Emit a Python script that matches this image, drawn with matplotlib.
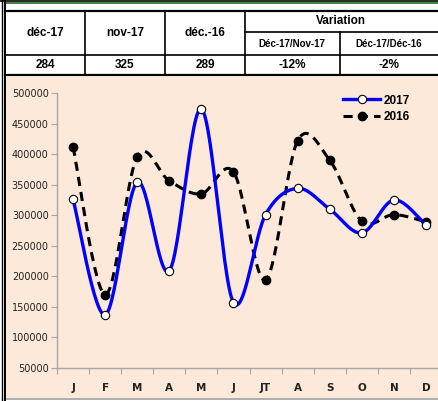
import numpy as np
import matplotlib
matplotlib.use("Agg")
import matplotlib.pyplot as plt
from matplotlib.lines import Line2D
from matplotlib.patches import Rectangle

months = ["J", "F", "M", "A", "M", "J", "JT", "A", "S", "O", "N", "D"]
v2017 = [326000, 137000, 354000, 209000, 474000, 157000, 301000, 344000, 310000, 271000, 325000, 284000]
v2016 = [412000, 170000, 396000, 356000, 335000, 371000, 194000, 422000, 390000, 290000, 301000, 289000]
table_head = ["déc-17", "nov-17", "déc.-16"]
table_sub = ["Déc-17/Nov-17", "Déc-17/Déc-16"]
table_vals = ["284", "325", "289", "-12%", "-2%"]
yticks = [50000, 100000, 150000, 200000, 250000, 300000, 350000, 400000, 450000, 500000]

W, H = 438, 401
fig = plt.figure(figsize=(W / 100, H / 100), dpi=100)
fig.patch.set_facecolor("white")

def fx(x):
    return x / W

def fy(y):
    return 1 - y / H

def hline(y, x0, x1, c="black", lw=1.0):
    fig.add_artist(Line2D([fx(x0), fx(x1)], [fy(y), fy(y)], color=c, lw=lw, transform=fig.transFigure))

def vline(x, y0, y1, c="black", lw=1.0):
    fig.add_artist(Line2D([fx(x), fx(x)], [fy(y0), fy(y1)], color=c, lw=lw, transform=fig.transFigure))

peach = "#FDE9D9"
# chart background panel
fig.add_artist(Rectangle((fx(6), fy(398)), (438 - 6) / W, (398 - 77) / H,
                         facecolor=peach, edgecolor="none", transform=fig.transFigure, zorder=0))
hline(398.5, 6, 438, c="#A0A0A0", lw=1.2)

# top border lines
hline(0.5, 0, 438, lw=1.2)
hline(3, 5, 438, c="#1E6B1E", lw=1.2)
hline(11, 5, 438, lw=1.6)
# left double line
vline(1.5, 0, 401, lw=1.0)
vline(5, 0, 401, lw=1.4)

# table
hline(55, 5, 438, lw=1.2)
hline(75, 5, 438, lw=1.6)
hline(32, 245, 438, lw=1.2)
for x in [85, 165, 245]:
    vline(x, 11, 75, lw=1.2)
vline(340, 32, 75, lw=1.2)

tfont = dict(family="Liberation Sans", weight="bold", ha="center", va="center")
for x, t in zip([45, 125, 205], table_head):
    fig.text(fx(x), fy(33), t, fontsize=8.5, **tfont)
fig.text(fx(341), fy(21), "Variation", fontsize=8.5, **tfont)
for x, t in zip([292, 389], table_sub):
    fig.text(fx(x), fy(44), t, fontsize=7, **tfont)
for x, t in zip([45, 125, 205, 292, 389], table_vals):
    fig.text(fx(x), fy(65), t, fontsize=8.5, **tfont)

# chart axes
x0, x1 = 57, 442
y_top, y_bot = 93, 368
ax = fig.add_axes([fx(x0), fy(y_bot), (x1 - x0) / W, (y_bot - y_top) / H])
ax.set_facecolor("none")
ax.set_xlim(-0.5, 11.5)
ax.set_ylim(50000, 500000)

def smooth(xs, ys, n=30):
    xs = np.asarray(xs, float)
    ys = np.asarray(ys, float)
    P = np.column_stack([xs, ys])
    P = np.vstack([P[0], P, P[-1]])
    out = []
    for i in range(1, len(P) - 2):
        p0, p1, p2, p3 = P[i - 1], P[i], P[i + 1], P[i + 2]
        c1 = p1 + (p2 - p0) / 6
        c2 = p2 - (p3 - p1) / 6
        t = np.linspace(0, 1, n)[:, None]
        seg = (1 - t) ** 3 * p1 + 3 * (1 - t) ** 2 * t * c1 + 3 * (1 - t) * t ** 2 * c2 + t ** 3 * p2
        out.append(seg if i == 1 else seg[1:])
    S = np.vstack(out)
    return S[:, 0], S[:, 1]

xi = np.arange(len(months))
sx, sy = smooth(xi, v2016)
ax.plot(sx, sy, color="black", lw=2.2, ls=(0, (3, 2)), zorder=2)
ax.plot(xi, v2016, ls="none", marker="o", ms=6, mfc="black", mec="black", zorder=3)
sx, sy = smooth(xi, v2017)
ax.plot(sx, sy, color="#0000FF", lw=2.4, zorder=4)
ax.plot(xi, v2017, ls="none", marker="o", ms=6, mfc="white", mec="black", mew=0.8, zorder=5)

h17 = Line2D([], [], color="#0000FF", lw=2.4, marker="o", ms=6, mfc="white", mec="black", mew=0.8)
h16 = Line2D([], [], color="black", lw=2.2, ls=(0, (3, 2)), marker="o", ms=6, mfc="black", mec="black")
leg = ax.legend([h17, h16], ["2017", "2016"], loc="upper left",
                bbox_to_anchor=(fx(332), fy(84)), bbox_transform=fig.transFigure,
                frameon=False, handlelength=3.2, handletextpad=0.3, labelspacing=0.35,
                prop=dict(family="Liberation Sans", weight="bold", size=8.5))

for s in ["top", "right"]:
    ax.spines[s].set_visible(False)
for s in ["left", "bottom"]:
    ax.spines[s].set_color("#A6A6A6")
    ax.spines[s].set_linewidth(1.0)

ax.set_yticks(yticks)
ax.set_yticklabels([str(v) for v in yticks], fontsize=7, family="DejaVu Sans", color="#222222")
ax.tick_params(axis="y", direction="out", length=4, color="#A6A6A6", pad=2)
ax.set_xticks(np.arange(-0.5, 11.6, 1), minor=False)
ax.set_xticklabels([])
ax.set_xticks(xi, minor=True)
ax.set_xticklabels(months, minor=True, fontsize=7.5, weight="bold", family="DejaVu Sans", color="#222222")
ax.tick_params(axis="x", which="major", direction="out", length=4, color="#A6A6A6")
ax.tick_params(axis="x", which="minor", length=0, pad=11)

fig.savefig("out.png", dpi=100)
